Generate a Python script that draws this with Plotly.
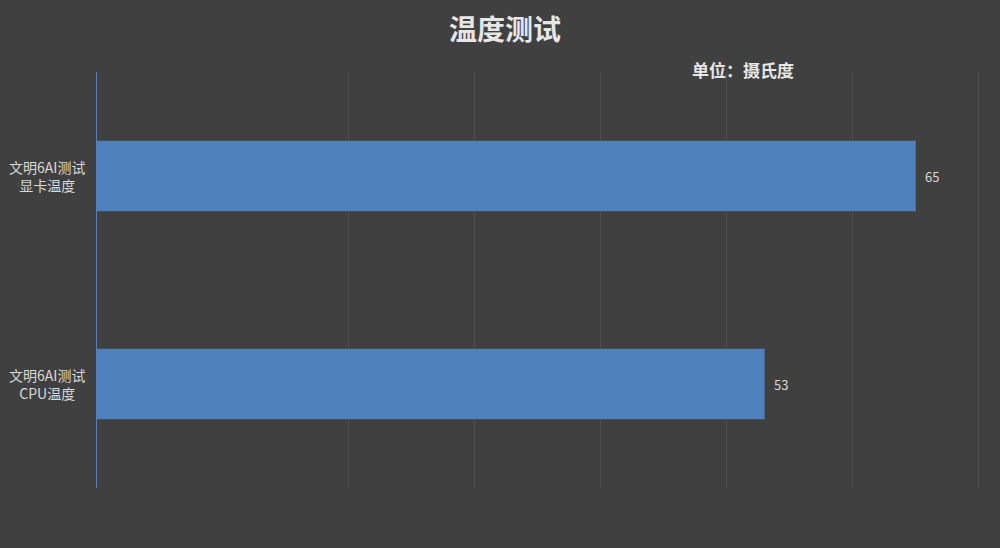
import plotly.graph_objects as go

# Data
categories = ['CPU', 'GPU']
category_labels = ['文明6AI测试<br>CPU温度', '文明6AI测试<br>显卡温度']
temps = [53, 65]
grid_vals = [20, 30, 40, 50, 60, 70]

fig = go.Figure(go.Bar(
    x=temps,
    y=categories,
    orientation='h',
    marker=dict(color='#4f81bd', line=dict(width=0)),
    hoverinfo='x',
))

fig.update_layout(
    width=1000, height=548,
    paper_bgcolor='#404040',
    plot_bgcolor='#404040',
    margin=dict(l=97, r=20, t=72, b=60),
    bargap=0.66,
    showlegend=False,
    font=dict(family='Noto Sans CJK SC', color='#d9d9d9'),
    title=dict(
        text='<b>温度测试</b>',
        x=0.505, xanchor='center', y=0.945, yanchor='middle',
        font=dict(size=28, color='#e6e6e6', family='Noto Sans CJK SC'),
    ),
)

# Unit label
fig.add_annotation(
    text='<b>单位：摄氏度</b>', xref='paper', yref='paper',
    x=0.732, y=1.005, xanchor='center', yanchor='middle', showarrow=False,
    font=dict(size=17, color='#e6e6e6', family='Noto Sans CJK SC'),
)

# Category labels, centred like the original
for cat, lab in zip(categories, category_labels):
    fig.add_annotation(
        text=lab, xref='paper', yref='y', x=-0.057, y=cat,
        xanchor='center', yanchor='middle', align='center', showarrow=False,
        font=dict(size=14, color='#d9d9d9', family='Noto Sans CJK SC'),
    )

# Value labels
for cat, t in zip(categories, temps):
    fig.add_annotation(
        text=str(t), xref='x', yref='y', x=t, y=cat,
        xanchor='left', yanchor='middle', xshift=7, showarrow=False,
        font=dict(size=13, color='#d9d9d9', family='Noto Sans CJK SC'),
    )

fig.update_xaxes(
    range=[0, 70.1], tickvals=grid_vals, showticklabels=False,
    showgrid=True, gridcolor='#505050', gridwidth=1,
    zeroline=False, showline=False, fixedrange=True,
)
fig.update_yaxes(
    showgrid=False, zeroline=False, showticklabels=False,
    showline=True, linecolor='#5b7fb3', linewidth=1,
    ticks='', fixedrange=True,
)

fig.write_html(
    "out.html",
    config=dict(displayModeBar=False),
    post_script="document.body.style.margin='0';document.body.style.overflow='hidden';",
)
